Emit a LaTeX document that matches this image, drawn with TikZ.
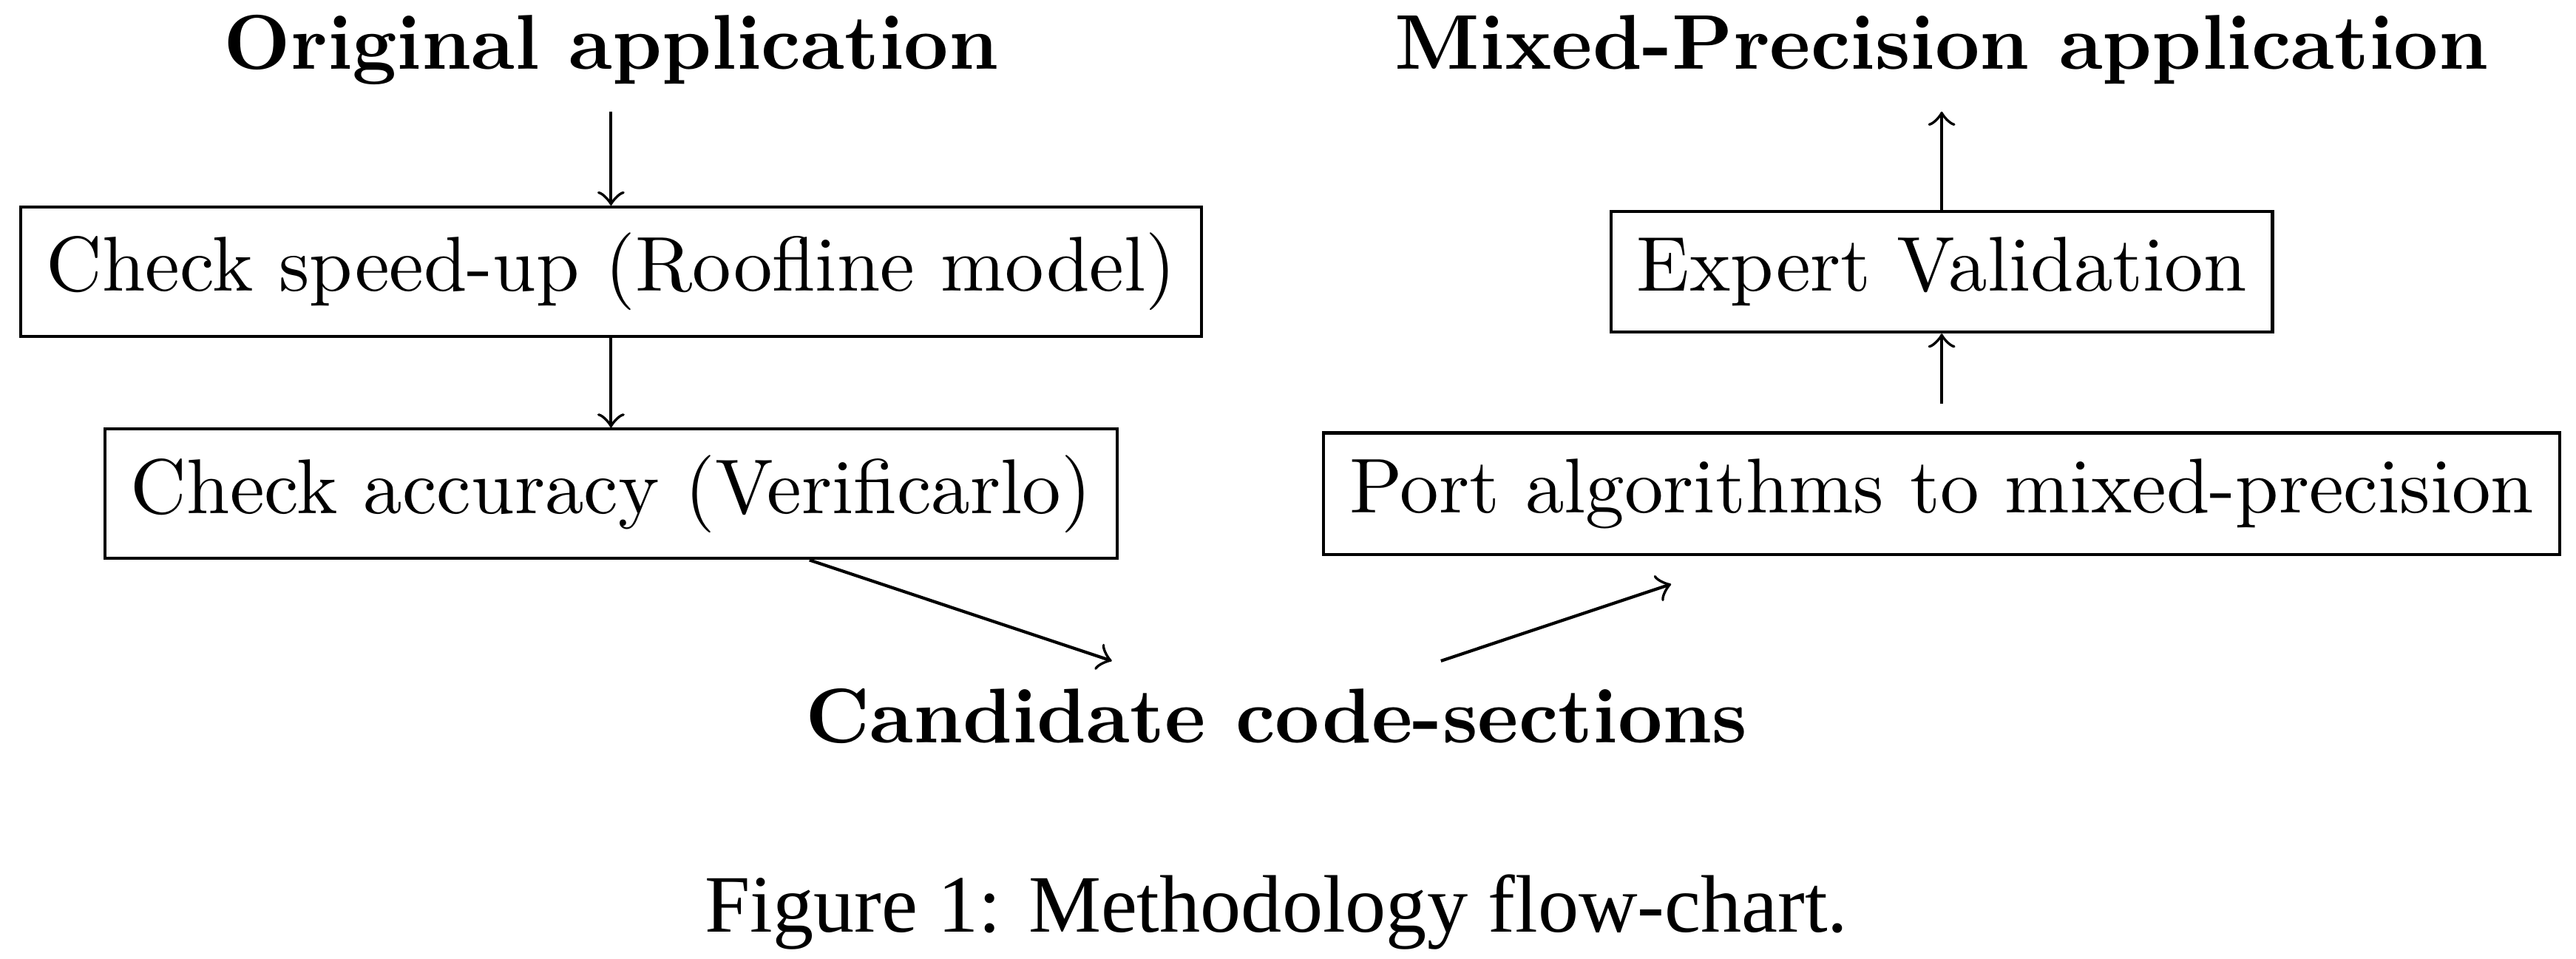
\documentclass[tikz,border=0pt]{standalone}
\usepackage{fontspec}
\newfontfamily\capfont{Liberation Serif}
\begin{document}
\begin{tikzpicture}[node distance={28.6pt}, box/.style = {draw, rectangle}, head/.style = {font=\bfseries}]
        \useasboundingbox (-78.7pt,35pt) rectangle (253.1pt,-88.5pt);
        \node[box] (speed) {Check speed-up (Roofline model)};
        \node[head] (orig) [above of=speed] {Original application};
        \node[box] (acc) [below of=speed] {Check accuracy (Verificarlo)};
        \node[box, outer sep=3.8pt] (port) [right of=acc, node distance=171.4pt] {Port algorithms to mixed-precision};
        \node[box] (expert) [above of=port] {Expert Validation};
        \node[head] (mixed) [above of=expert] {Mixed-Precision application};
        \node[head] (cand) [below of=acc, xshift=85.7pt] {Candidate code-sections};
        \node (caption) [below of=cand, node distance=25.3pt] {\capfont\fontsize{10.5pt}{12pt}\selectfont Figure 1: Methodology flow-chart.};
        
        \draw[->] (orig) -- (speed);
        \draw[->] (speed) -- (acc);
        \draw[->] (acc) -- (cand);
        \draw[->] (cand) -- (port);
        \draw[->] (port) -- (expert);
        \draw[->] (expert) -- (mixed);
    \end{tikzpicture}
\end{document}
